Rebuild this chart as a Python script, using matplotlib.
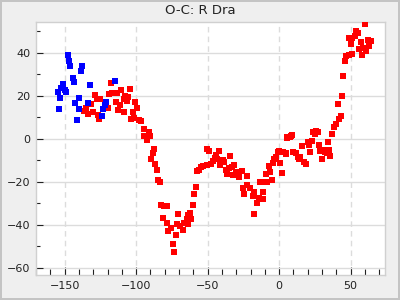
import numpy as np
import matplotlib.pyplot as plt
from matplotlib.ticker import MultipleLocator

# blue points (earlier series)
blue_x = [-147.9, -147.2, -146.5, -137.5, -138.2, -144.4, -143.1, -131.9, -115.1,
          -151.4, -152.3, -150.0, -149.1, -154.9, -153.5, -139.6, -142.4, -133.3,
          -121.4, -122.1, -140.0, -154.2, -123.5, -123.9, -141.0]
blue_y = [38.9, 36.1, 34.0, 33.8, 31.5, 28.2, 26.4, 25.1, 26.8,
          25.4, 23.9, 22.8, 21.7, 21.7, 18.9, 18.9, 16.6, 16.6,
          17.1, 15.7, 13.8, 13.8, 13.8, 10.6, 8.7]

# red points
red_x = [-117.9, -129.1, -127.4, -125.1, -119.3, -117.0, -113.3, -110.3, -104.0,
         -107.7, -105.4, -108.6, -106.1, -114.4, -111.0, -100.5, -131.4, -120.0,
         -112.6, -99.1, -108.2, -101.9, -136.1, -133.7, -130.2, -127.0, -126.3,
         -103.5, -101.2, -98.1, -96.3, -135.1,
         -94.2, -91.1, -94.6, -90.0, -92.1, -87.4,
         -88.1, -89.3, -86.5, -85.1, -84.4, -83.0, -82.3, -80.3, -78.6, -80.9,
         -78.2, -77.5, -75.4, -71.9, -74.0, -73.3, -70.5, -71.2, -69.1, -67.0,
         -66.3, -64.6, -63.5, -62.1, -61.4, -63.9, -60.0, -59.3, -57.9,
         -57.2, -55.8, -54.4, -53.0, -50.7, -50.5, -49.1,
         -47.7, -46.1, -44.9, -44.0, -43.3, -41.9, -41.2, -39.1, -38.4, -37.2,
         -36.5, -35.1, -34.2, -33.2, -32.1, -31.4, -30.4, -28.6, -27.9, -26.0,
         -22.3, -25.1, -24.4, -22.7, -20.2, -18.6, -17.9, -15.8, -14.0, -11.6,
         -11.2, -17.4, -13.3, -11.2, -8.6, -4.9, -9.3, -6.3, -7.0, -4.2,
         -3.5, -2.3, 2.1, -1.1, 0.0, 2.8, 4.7, 5.6, 8.0, 0.5,
         5.2, 7.3, 9.1, 4.9, 10.0, 11.7, 13.3, 14.9, 14.2, 16.0,
         17.4, 18.8, 20.0, 20.9, 21.6, 23.0, 24.0, 26.1, 25.1, 27.2,
         27.9, 28.6, 30.0, 30.7, 32.1, 33.5, 34.9, 35.6, 34.2, 37.0,
         38.0, 39.4, 41.7, 43.3, 41.2, 44.0, 44.7, 46.1, 46.5, 48.6,
         50.9, 50.2, 48.8, 51.2, 52.8, 53.7, 55.4, 60.0, 57.2, 55.8,
         58.6, 57.9, 61.0, 62.4, 64.5, 63.1]
red_y = [25.9, 20.3, 18.5, 18.5, 20.9, 21.3, 21.3, 22.6, 23.1,
         20.0, 19.7, 18.7, 17.5, 17.1, 15.7, 17.1, 16.1, 14.3,
         13.3, 14.3, 12.4, 12.4, 12.9, 11.6, 12.4, 11.0, 9.2,
         9.2, 9.6, 8.7, 8.2, 14.3,
         4.5, 3.1, 1.3, 1.3, -0.3, -4.8,
         -6.4, -9.3, -11.8, -14.6, -19.2, -20.1, -30.7, -31.3, -31.2, -36.9,
         -39.2, -42.8, -41.4, -44.8, -49.0, -52.7, -35.0, -39.7, -40.6, -42.5,
         -39.2, -37.1, -39.7, -34.6, -37.3, -35.2, -30.8, -25.7, -22.5,
         -15.0, -14.6, -13.2, -12.7, -12.2, -4.8, -5.7,
         -11.8, -10.4, -9.0, -7.6, -9.4, -5.7, -12.2, -9.9, -10.8, -14.3,
         -16.4, -13.6, -8.0, -13.2, -16.9, -12.2, -15.5, -16.7, -17.8, -15.0,
         -17.3, -22.9, -25.7, -21.5, -22.9, -26.7, -24.8, -29.9, -27.6, -28.0,
         -24.8, -34.7, -20.1, -20.0, -20.1, -19.2, -16.4, -15.5, -12.7, -11.3,
         -9.4, -8.2, -16.0, -6.0, -5.7, -6.0, -6.7, 0.8, 1.3, -11.3,
         0.3, 1.1, 1.7, -6.8, -6.2, -6.7, -8.5, -8.2, -9.4, -3.3,
         -10.7, -11.8, -1.5, -2.6, -6.2, -1.1, 3.1, 3.6, 2.2, 3.1,
         -2.9, -5.7, -9.4, -5.1, -6.2, -6.7, -5.3, -8.0, -1.5, 2.2,
         5.4, 6.8, 9.2, 10.7, 16.3, 19.9, 29.2, 36.1, 38.5, 38.9,
         39.4, 44.0, 46.8, 46.8, 47.8, 50.1, 49.2, 53.4, 45.0, 41.7,
         42.2, 38.9, 40.8, 45.9, 45.4, 43.1]

fig = plt.figure(figsize=(4, 3), dpi=100)
fig.patch.set_facecolor('#efefef')
fig.patch.set_edgecolor('#c4c4c4')
fig.patch.set_linewidth(1.5)
ax = fig.add_axes([0.09, 0.0833, 0.8725, 0.8434])

ax.plot(red_x, red_y, ls='none', marker='s', ms=5, mew=0, color='#ff0000', zorder=3)
ax.plot(blue_x, blue_y, ls='none', marker='s', ms=5, mew=0, color='#0000ff', zorder=3)

ax.set_xlim(-170, 74)
ax.set_ylim(-63.3, 54.4)
ax.xaxis.set_major_locator(MultipleLocator(50))
ax.xaxis.set_minor_locator(MultipleLocator(10))
ax.yaxis.set_major_locator(MultipleLocator(20))
ax.yaxis.set_minor_locator(MultipleLocator(10))

ax.grid(axis='y', which='major', color='#dcdcdc', lw=1, ls='-')
ax.grid(axis='x', which='major', color='#dcdcdc', lw=1, ls=(0, (4, 3)))
ax.set_axisbelow(True)

for s in ax.spines.values():
    s.set_color('#d0d0d0')
    s.set_linewidth(1)

ax.tick_params(which='both', direction='in', colors='#222222', labelsize=8, width=0.8)
ax.tick_params(which='major', length=5, pad=4)
ax.tick_params(which='minor', length=3)
ax.tick_params(axis='x', which='major', length=6)
ax.tick_params(axis='x', which='minor', length=4)

fig.text(0.5, 0.965, 'O-C: R Dra', ha='center', va='center', fontsize=9.5, color='#222222')

fig.savefig('out.png', dpi=100, facecolor=fig.get_facecolor(), edgecolor=fig.get_edgecolor())
